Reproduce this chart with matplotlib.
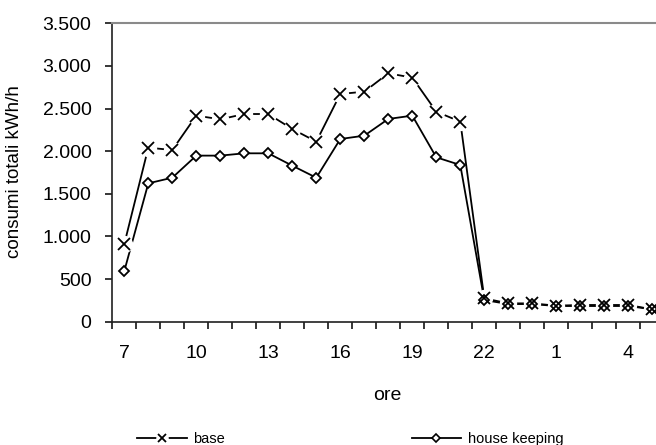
import matplotlib
matplotlib.use("Agg")
import matplotlib.pyplot as plt
from matplotlib.lines import Line2D
from matplotlib.ticker import FuncFormatter, FixedLocator

plt.rcParams['font.family'] = ['Liberation Sans', 'DejaVu Sans']

hours = ['7', '8', '9', '10', '11', '12', '13', '14', '15', '16', '17', '18',
         '19', '20', '21', '22', '23', '0', '1', '2', '3', '4', '5']
base = [911, 2041, 2014, 2417, 2374, 2436, 2436, 2260, 2112, 2671, 2698, 2913,
        2863, 2464, 2346, 274, 215, 215, 188, 196, 196, 196, 145]
house_keeping = [594, 1623, 1689, 1948, 1948, 1975, 1975, 1830, 1689, 2143, 2182, 2378,
                 2417, 1928, 1838, 254, 207, 207, 184, 184, 184, 184, 145]
y_ticks = [0, 500, 1000, 1500, 2000, 2500, 3000, 3500]

W, H = 656, 445
fig = plt.figure(figsize=(W / 100, H / 100), dpi=100)
left, right, top, bottom = 112.3, 664.3, 23.3, 321.7
ax = fig.add_axes([left / W, 1 - bottom / H, (right - left) / W, (bottom - top) / H])

x = list(range(len(hours)))
lw = 1.3
ax.plot(x, base, color='black', lw=lw, zorder=2)
ax.plot(x, house_keeping, color='black', lw=lw, zorder=2)
# white halo around X markers (gaps in lines)
ax.plot(x, base, ls='none', marker='o', ms=11.5, mfc='white', mec='white', zorder=3)
ax.plot(x, house_keeping, ls='none', marker='D', ms=5.5, mfc='white', mec='black',
        mew=1.3, zorder=4)
ax.plot(x, base, ls='none', marker='x', ms=9, mec='black', mew=1.3, zorder=5)

ax.set_xlim(-0.5, len(hours) - 0.5)
ax.set_ylim(0, 3500)
ax.set_yticks(y_ticks)
ax.yaxis.set_major_formatter(FuncFormatter(lambda v, p: f"{int(v):,}".replace(',', '.')))

major = list(range(0, len(hours), 3))
ax.set_xticks(major)
ax.set_xticklabels([hours[i] for i in major])
ax.xaxis.set_minor_locator(FixedLocator([i - 0.5 for i in range(len(hours) + 1)]))
ax.tick_params(axis='x', which='major', length=0, pad=17, labelsize=14)
ax.tick_params(axis='x', which='minor', length=5, width=1.1, direction='out')
ax.tick_params(axis='y', length=5, width=1.1, direction='out', pad=10, labelsize=14)

for s in ['left', 'bottom']:
    ax.spines[s].set_linewidth(1.2)
    ax.spines[s].set_color('#202020')
ax.spines['top'].set_color('#8a8a8a')
ax.spines['top'].set_linewidth(1.5)
ax.spines['right'].set_visible(False)

fig.text(15 / W, 1 - 172 / H, 'consumi totali kWh/h', rotation=90, fontsize=13.5,
         ha='center', va='center')
fig.text(387 / W, 1 - 395 / H, 'ore', fontsize=14, ha='center', va='center')

h_base = (Line2D([], [], color='black', lw=lw),
          Line2D([], [], ls='none', marker='o', ms=8, mfc='white', mec='white'),
          Line2D([], [], ls='none', marker='x', ms=6, mec='black', mew=1.3))
h_house = (Line2D([], [], color='black', lw=lw),
           Line2D([], [], ls='none', marker='D', ms=4, mfc='white', mec='black', mew=1.2))
fig.legend([h_base, h_house], ['base', 'house keeping'], ncol=2, frameon=False,
           loc='center left', bbox_to_anchor=(137 / W, 1 - 439 / H),
           borderpad=0, borderaxespad=0, handlelength=3.4, handletextpad=0.45,
           columnspacing=12.8, fontsize=10.5)

fig.savefig('out.png', dpi=100)
